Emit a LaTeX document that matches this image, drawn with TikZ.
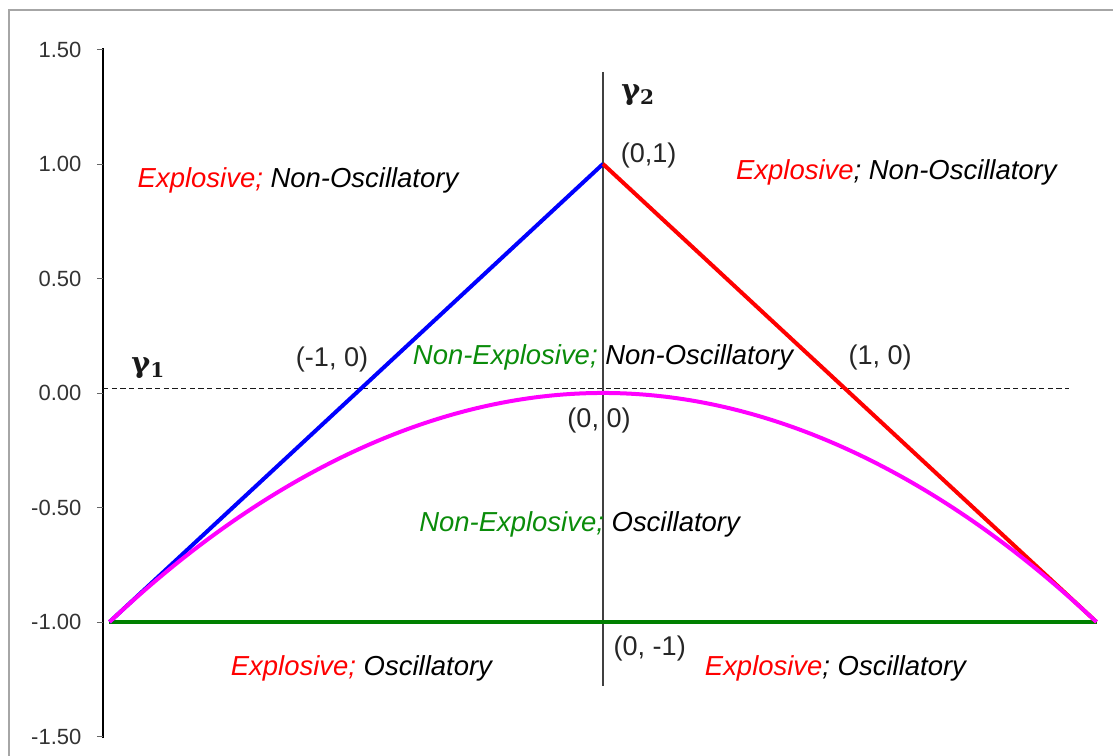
\documentclass[tikz,border=0pt]{standalone}
\usepackage{amsmath, amssymb}
\usepackage{xcolor}
\usepackage{fontspec}
\setmainfont{Liberation Sans}
\newfontfamily\gamfont{DejaVu Serif}
\definecolor{darkgreen}{RGB}{0,128,0}
\definecolor{txtgreen}{RGB}{10,140,10}
\definecolor{pinkline}{RGB}{255,0,255}

\tikzset{
    region/.style={font=\fontsize{20.6}{24}\selectfont\itshape},
    ticklbl/.style={font=\fontsize{16.5}{20}\selectfont, text=black!80, anchor=east},
    ptlbl/.style={font=\fontsize{20.3}{24}\selectfont, text=black!85},
    gam/.style={font=\gamfont\bfseries\fontsize{21.5}{24}\selectfont, text=black!90},
}

\begin{document}
\begin{tikzpicture}[x=185.06pt, y=171.75pt]
    \useasboundingbox (-2.4438,-1.585) rectangle (2.0669,1.716);
    \clip (-2.4438,-1.585) rectangle (2.0669,1.716);
    % Frame
    \draw[black!35, line width=1.5pt] (-2.407,-1.8) -- (-2.407,1.672) -- (2.2,1.672);

    % Axes
    \draw[line width=0.9pt] (-2.026,-1.507) -- (-2.026,1.507);
    \foreach \v/\t in {1.5/1.50, 1/1.00, 0.5/0.50, 0/0.00, -0.5/-0.50, -1/-1.00, -1.5/-1.50} {
        \draw[black!60, line width=0.6pt] (-2.051,\v) -- (-2.026,\v);
        \node[ticklbl] (tick\t) at (-2.095,\v) {\t};
    }
    \draw[black!90, line width=0.8pt, dash pattern=on 4pt off 2.5pt] (-2.026,0.02) -- (1.89,0.02);
    \draw[black!75, line width=0.9pt] (0,1.402) -- (0,-1.279);

    % Corner points
    \coordinate (top) at (0,1);
    \coordinate (left) at (-2,-1);
    \coordinate (right) at (2,-1);

    % Boundaries
    \draw[darkgreen, line width=3.3pt] (left) -- (right);
    \draw[blue, line width=3pt] (left) -- (top);
    \draw[red, line width=3pt] (top) -- (right);
    \draw[pinkline, line width=3pt] (left) parabola bend (0,0) (right);

    % Curve names
    \node[gam, anchor=west] (g2) at (0.055,1.301) {γ\textsubscript{2}};
    \node[gam, anchor=west] (g1) at (-1.93,0.109) {γ\textsubscript{1}};

    % Points
    \node[ptlbl, anchor=west] (p01) at (0.053,1.039) {(0,1)};
    \node[ptlbl] (pm10) at (-1.098,0.144) {(-1, 0)};
    \node[ptlbl] (p10) at (1.123,0.157) {(1, 0)};
    \node[ptlbl] (p00) at (-0.016,-0.122) {(0, 0)};
    \node[ptlbl, anchor=west] (p0m1) at (0.024,-1.114) {(0, -1)};

    % Regions
    \node[region] (rtl) at (-1.236,0.930) {\textcolor{red}{Explosive;} Non-Oscillatory};
    \node[region] (rtr) at (1.189,0.961) {\textcolor{red}{Explosive}; Non-Oscillatory};
    \node[region] (rmid) at (0,0.157) {\textcolor{txtgreen}{Non-Explosive;} Non-Oscillatory};
    \node[region] (rlow) at (-0.095,-0.572) {\textcolor{txtgreen}{Non-Explosive;} Oscillatory};
    \node[region] (rbl) at (-0.979,-1.201) {\textcolor{red}{Explosive;} Oscillatory};
    \node[region] (rbr) at (0.942,-1.201) {\textcolor{red}{Explosive}; Oscillatory};
\end{tikzpicture}
\end{document}
